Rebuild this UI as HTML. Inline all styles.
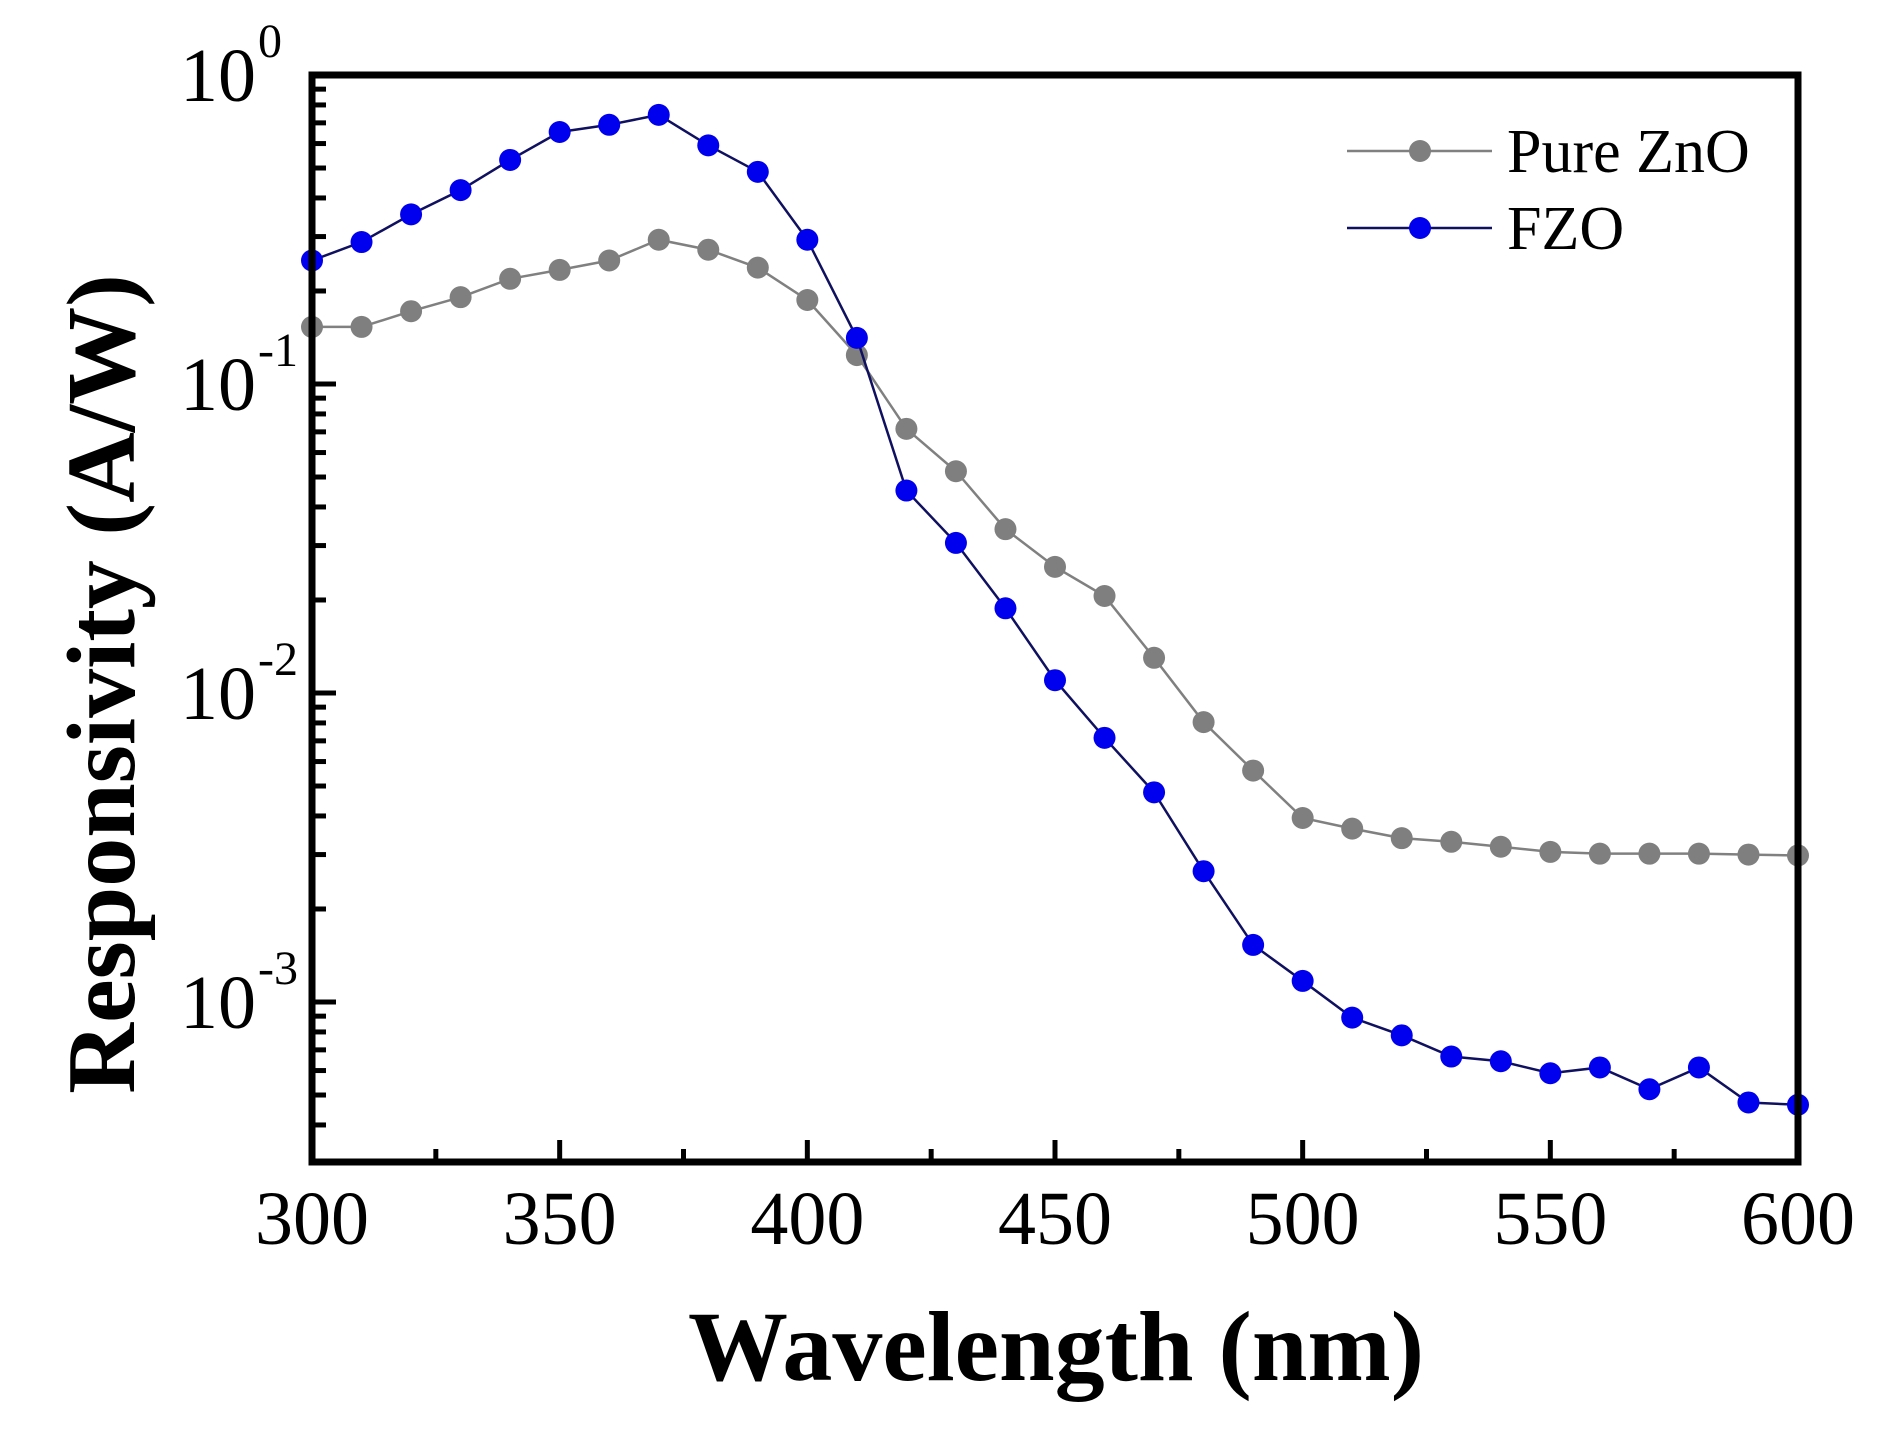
<!DOCTYPE html>
<html><head><meta charset="utf-8"><style>
html,body{margin:0;padding:0;background:#fff;}
svg text{font-family:"Liberation Serif",serif;}
</style></head><body>
<svg id="chart" width="1893" height="1435" viewBox="0 0 1893 1435" xmlns="http://www.w3.org/2000/svg">
<g id="plot"></g>
</svg>
<script>
const wavelengths=[300,310,320,330,340,350,360,370,380,390,400,410,420,430,440,450,460,470,480,490,500,510,520,530,540,550,560,570,580,590,600];
const pureZnO=[0.153,0.153,0.172,0.191,0.219,0.234,0.251,0.293,0.272,0.238,0.187,0.124,0.0716,0.0522,0.0339,0.0256,0.0206,0.013,0.00805,0.00561,0.00394,0.00364,0.00339,0.0033,0.00318,0.00306,0.00302,0.00302,0.00302,0.003,0.00298];
const fzo=[0.251,0.288,0.354,0.424,0.531,0.654,0.69,0.743,0.592,0.486,0.293,0.141,0.0452,0.0306,0.0188,0.011,0.00716,0.00477,0.00265,0.00153,0.00117,0.00089,0.00078,0.000666,0.000643,0.000588,0.000614,0.000522,0.000614,0.000473,0.000465];
const xTicks=[300,350,400,450,500,550,600];
const yDecades=[0,-1,-2,-3];
const NS="http://www.w3.org/2000/svg";
const L=312,R=1798,T=75,B=1162,DEC=309;
function xs(v){return L+(v-300)/300*(R-L);}
function ys(v){return T-Math.log10(v)*DEC;}
const g=document.getElementById('plot');
function mk(tag,attrs,parent){const e=document.createElementNS(NS,tag);for(const k in attrs)e.setAttribute(k,attrs[k]);(parent||g).appendChild(e);return e;}
function series(vals,color,lineColor,name){
  const sg=mk('g',{});
  
  
  const pts=wavelengths.map((w,i)=>xs(w)+','+ys(vals[i])).join(' ');
  const pl=mk('polyline',{points:pts,fill:'none',stroke:lineColor,'stroke-width':2.5},sg);
  
  
  wavelengths.forEach((w,i)=>{
    const c=mk('circle',{cx:xs(w),cy:ys(vals[i]),r:11,fill:color},sg);
    
    
  });
}
series(pureZnO,'#7f7f7f','#808080','pure-zno');
series(fzo,'#0000ee','#101060','fzo');
const fr=mk('rect',{x:L,y:T,width:R-L,height:B-T,fill:'none',stroke:'#000','stroke-width':7});


for(let v=300;v<=600;v+=25){
  const major=(v%50===0);
  const t=mk('line',{x1:xs(v),x2:xs(v),y1:B,y2:B-(major?22:13),stroke:'#000','stroke-width':5});
  
  
}
xTicks.forEach(v=>{
  const t=mk('text',{x:xs(v),y:1244,'font-size':76,'text-anchor':'middle',fill:'#000'});
  t.textContent=v;
  
  
});
yDecades.forEach(d=>{
  const y=T-d*DEC;
  const t=mk('line',{x1:L,x2:L+24,y1:y,y2:y,stroke:'#000','stroke-width':5});
  
  
  for(let m=2;m<=9;m++){
    const yy=T-(d-1+Math.log10(m))*DEC;
    if(yy>B||yy<T)continue;
    const mt=mk('line',{x1:L,x2:L+14,y1:yy,y2:yy,stroke:'#000','stroke-width':5});
    
    
  }
  const tx=mk('text',{x:256,y:y+26,'font-size':76,'text-anchor':'end',fill:'#000'});
  tx.textContent='10';
  
  
  const sup=mk('text',{x:258,y:y-18,'font-size':48,'text-anchor':'start',fill:'#000'});
  sup.textContent=d===0?'0':('-'+(-d));
  
  
});
const lg=mk('g',{});


[['Pure ZnO','#7f7f7f','#808080',151],['FZO','#0000ee','#101060',228]].forEach(([lab,c,lc,y])=>{
  const eg=mk('g',{},lg);
  
  
  mk('line',{x1:1347,x2:1492,y1:y,y2:y,stroke:lc,'stroke-width':2.5},eg);
  mk('circle',{cx:1420,cy:y,r:11,fill:c},eg);
  const t=mk('text',{x:1507,y:y+21,'font-size':62,fill:'#000'},eg);
  t.textContent=lab;
});
const xt=mk('text',{x:1056,y:1380,'font-size':100,'font-weight':'bold','text-anchor':'middle',fill:'#000'});
xt.textContent='Wavelength (nm)';


const yt=mk('text',{x:0,y:0,'font-size':98,'font-weight':'bold','text-anchor':'middle',fill:'#000',transform:'translate(134,684) rotate(-90)'});
yt.textContent='Responsivity (A/W)';


</script>
</body></html>
